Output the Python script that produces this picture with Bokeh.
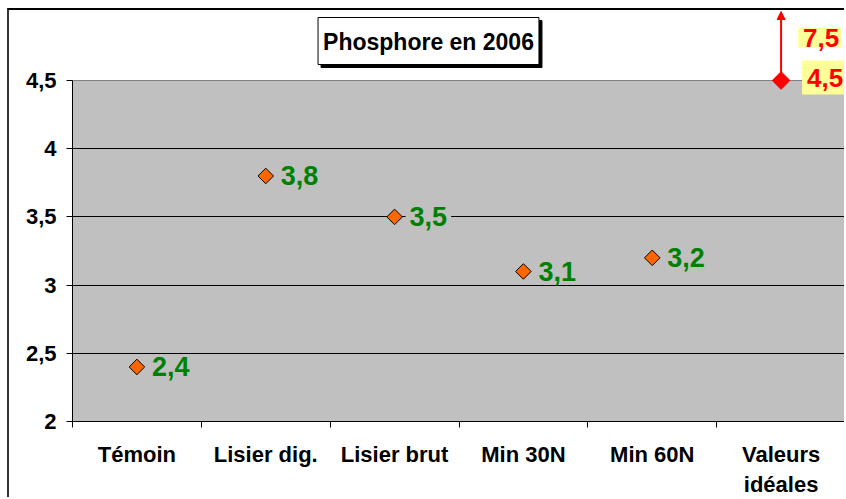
import numpy as np
from bokeh.plotting import figure
from bokeh.models import (ColumnDataSource, FixedTicker, CustomJSTickFormatter,
                          Label, Arrow, NormalHead, Range1d)
from bokeh.embed import file_html
from bokeh.resources import INLINE

# ---------------- data ----------------
categories = ["Témoin", "Lisier dig.", "Lisier brut", "Min 30N", "Min 60N", "Valeurs\nidéales"]
phosphore = [2.4, 3.8, 3.5, 3.1, 3.2]
ideal_low = 4.5
ideal_high = 7.5
y_ticks = [2, 2.5, 3, 3.5, 4, 4.5]
title_text = "Phosphore en 2006"

# ---------------- layout ----------------
OX, OY = 9, 10            # page offset of figure content (margin + border)
W, H = 846 - OX, 499 - OY
FL, FR = 72 - OX, 845 - OX   # frame left/right (px in figure)
FT, FB = 0, 421 - OY         # frame top/bottom
PX_PER_UNIT = 136.4
y_min = y_ticks[0]
y_top = y_min + (FB - FT) / PX_PER_UNIT
n = len(categories)
FONT = "Liberation Sans"

def fmt(v):
    return ("%g" % v).replace(".", ",")

p = figure(width=W, height=H, output_backend="svg", toolbar_location=None,
           x_range=Range1d(0, n), y_range=Range1d(y_min, y_top),
           min_border_left=FL, min_border_right=W - FR,
           min_border_top=FT, min_border_bottom=H - FB,
           background_fill_color="white", border_fill_color="white",
           outline_line_color=None,
           styles={"margin-left": "7px", "margin-top": "8px",
                   "border-top": "2px solid black", "border-left": "2px solid #333333"})

# gray plot area
p.quad(left=[0], right=[n], bottom=[y_ticks[0]], top=[y_ticks[-1]],
       fill_color="#C0C0C0", line_color="#808080", line_width=1, level="image")

# grid
p.xgrid.visible = False
p.ygrid.ticker = FixedTicker(ticks=y_ticks[1:-1])
p.ygrid.grid_line_color = "black"
p.ygrid.grid_line_width = 1

# y axis
p.yaxis.ticker = FixedTicker(ticks=y_ticks)
p.yaxis.bounds = (y_ticks[0], y_ticks[-1])
p.yaxis.formatter = CustomJSTickFormatter(code="return tick.toString().replace('.', ',')")
p.yaxis.major_tick_out = 6
p.yaxis.major_tick_in = 0
p.yaxis.minor_tick_out = 0
p.yaxis.minor_tick_in = 0
p.yaxis.axis_line_color = "black"
p.yaxis.major_tick_line_color = "black"
p.yaxis.major_label_standoff = 10
p.yaxis.major_label_text_font = FONT
p.yaxis.major_label_text_font_style = "bold"
p.yaxis.major_label_text_font_size = "22px"
p.yaxis.major_label_text_color = "black"

# x axis: labels at category centres, tick marks between categories
centers = [i + 0.5 for i in range(n)]
p.xaxis.ticker = FixedTicker(ticks=centers, minor_ticks=list(range(n + 1)))
p.xaxis.formatter = CustomJSTickFormatter(args=dict(labels=categories),
                                          code="return labels[Math.floor(tick)]")
p.xaxis.major_tick_out = 0
p.xaxis.major_tick_in = 0
p.xaxis.minor_tick_out = 6
p.xaxis.minor_tick_in = 0
p.xaxis.axis_line_color = "black"
p.xaxis.minor_tick_line_color = "black"
p.xaxis.major_label_standoff = 14
p.xaxis.major_label_text_font = FONT
p.xaxis.major_label_text_font_style = "bold"
p.xaxis.major_label_text_font_size = "22px"
p.xaxis.major_label_text_color = "black"

# measured points
xs = centers[:len(phosphore)]
src = ColumnDataSource(dict(x=xs, y=phosphore))
p.scatter("x", "y", source=src, marker="square", angle=np.pi / 4, size=11,
          fill_color="#FF6600", line_color="black", line_width=1)
for xv, yv in zip(xs, phosphore):
    p.add_layout(Label(x=xv, y=yv, x_offset=11, text=fmt(yv),
                       text_baseline="middle", text_align="left",
                       text_color="#008000", text_font=FONT, text_font_style="bold",
                       text_font_size="27px", background_fill_color="#C0C0C0",
                       padding=dict(left=4, right=4, top=2, bottom=2)))

# ideal values
x_ideal = centers[-1]
p.add_layout(Arrow(x_start=x_ideal, y_start=ideal_low, x_end=x_ideal,
                   y_end=min(ideal_high, y_top - 1 / PX_PER_UNIT),
                   line_color="red", line_width=2,
                   end=NormalHead(size=8, fill_color="red", line_color="red")))
p.scatter([x_ideal], [ideal_low], marker="square", angle=np.pi / 4, size=12.5,
          fill_color="red", line_color="red")
for val, dx, dy, pad_v in [(ideal_high, 17, 43, 1), (ideal_low, 21, 3, 8)]:
    p.add_layout(Label(x=x_ideal, y=ideal_low, x_offset=dx, y_offset=dy, text=fmt(val),
                       text_baseline="middle", text_align="left",
                       text_color="red", text_font=FONT, text_font_style="bold",
                       text_font_size="26px", background_fill_color="#FFFF99",
                       padding=dict(left=5, right=2, top=pad_v, bottom=pad_v)))

# title box with shadow
tx = (428 - 72) / (FR - FL) * n
ty = y_ticks[-1] + (80 - 40.5) / PX_PER_UNIT
for dx, dy, bg, fg in [(3, -3, "black", "black"), (0, 0, "white", "black")]:
    p.add_layout(Label(x=tx, y=ty, x_offset=dx, y_offset=dy, text=title_text,
                       text_align="center", text_baseline="middle",
                       text_font=FONT, text_font_style="bold", text_font_size="23px",
                       text_color=fg, background_fill_color=bg,
                       border_line_color="black", border_line_width=1,
                       padding=dict(left=5, right=5, top=11, bottom=10)))

open("out.html", "w").write(file_html(p, INLINE))
